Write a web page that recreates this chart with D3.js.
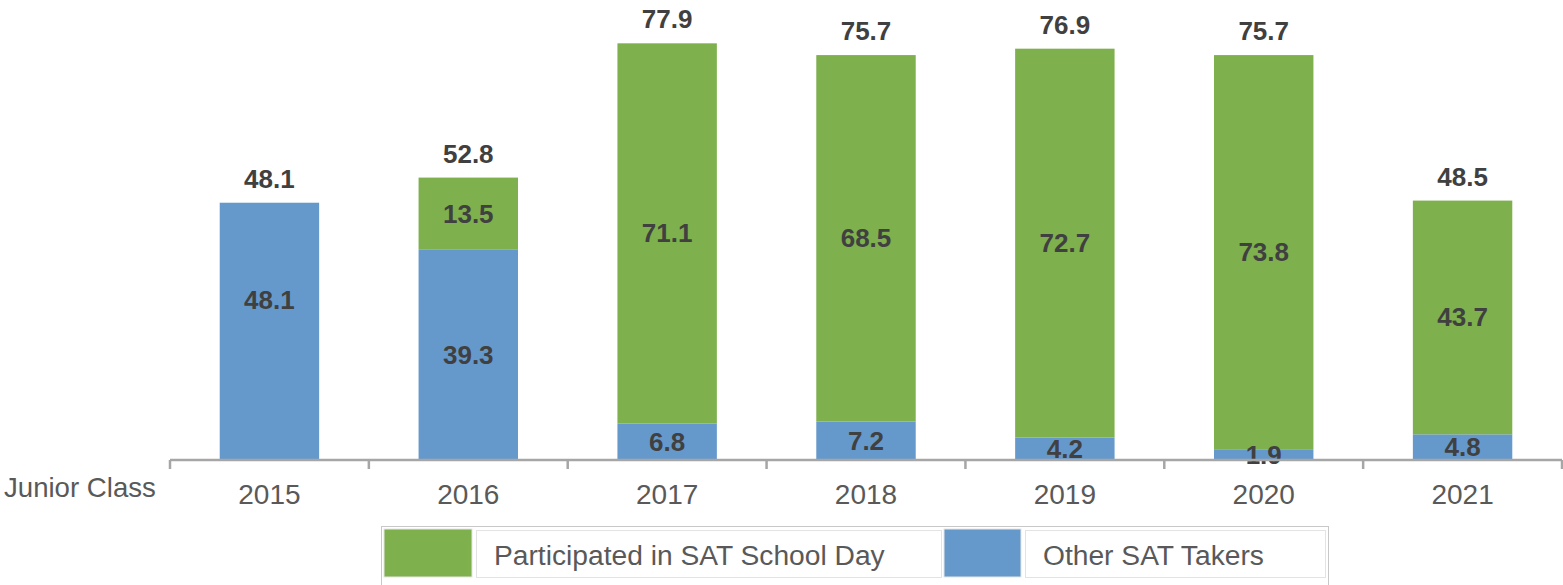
<!DOCTYPE html>
<html><head><meta charset="utf-8">
<script src="https://cdn.jsdelivr.net/npm/d3@7"></script>
<style>body{margin:0;background:#fff}svg{display:block;font-family:"Liberation Sans",Arial,sans-serif}</style>
</head><body><svg id="c" width="1563" height="585"></svg>
<script>
const years = ["2015","2016","2017","2018","2019","2020","2021"];
const otherTakers = [48.1, 39.3, 6.8, 7.2, 4.2, 1.9, 4.8];
const schoolDay = [0, 13.5, 71.1, 68.5, 72.7, 73.8, 43.7];
const totals = [48.1, 52.8, 77.9, 75.7, 76.9, 75.7, 48.5];
const seriesNames = ["Participated in SAT School Day", "Other SAT Takers"];
const colors = {green:"#7EB04D", blue:"#6699CB"};

const svg = d3.select("#c");
const x = d3.scaleBand().domain(years).range([170, 1562]).paddingInner(0.5).paddingOuter(0.25);
const y = d3.scaleLinear().domain([0, 86]).range([460, 0]);
const bw = x.bandwidth();

const g = svg.append("g");
years.forEach((yr, i) => {
  const b = otherTakers[i], s = schoolDay[i];
  g.append("rect").attr("x", x(yr)).attr("width", bw)
    .attr("y", y(b)).attr("height", y(0) - y(b)).attr("fill", colors.blue);
  if (s > 0) {
    g.append("rect").attr("x", x(yr)).attr("width", bw)
      .attr("y", y(b + s)).attr("height", y(b) - y(b + s)).attr("fill", colors.green);
    g.append("text").attr("x", x(yr) + bw/2).attr("y", y(b + s/2) + 9)
      .attr("text-anchor","middle").attr("font-size",26).attr("font-weight","bold")
      .attr("fill","#404040").text(s.toFixed(1));
  }
  g.append("text").attr("x", x(yr) + bw/2).attr("y", y(s > 0 ? b/2 : b*0.62) + 9)
    .attr("text-anchor","middle").attr("font-size",26).attr("font-weight","bold")
    .attr("fill","#404040").text(b.toFixed(1));
  g.append("text").attr("x", x(yr) + bw/2).attr("y", y(totals[i]) - 15)
    .attr("text-anchor","middle").attr("font-size",26).attr("font-weight","bold")
    .attr("fill","#404040").text(totals[i].toFixed(1));
});

const axisG = svg.append("g");
axisG.append("line").attr("x1", 170).attr("x2", 1562).attr("y1", y(0)).attr("y2", y(0))
  .attr("stroke","#a6a6a6").attr("stroke-width",2.5);
const step = x.step();
d3.range(years.length + 1).forEach(k => {
  const tx = 170 + k * step;
  axisG.append("line").attr("x1", tx).attr("x2", tx).attr("y1", y(0)).attr("y2", y(0) + 9)
    .attr("stroke","#a6a6a6").attr("stroke-width",2.5);
});
years.forEach(yr => {
  axisG.append("text").attr("x", x(yr) + bw/2).attr("y", y(0) + 44)
    .attr("text-anchor","middle").attr("font-size",28).attr("fill","#595959").text(yr);
});
svg.append("text").attr("x", 4).attr("y", y(0) + 37).attr("font-size",27.6)
  .attr("fill","#595959").text("Junior Class");

const lg = svg.append("g");
lg.append("rect").attr("x",381.5).attr("y",526.5).attr("width",947).attr("height",70)
  .attr("fill","#fff").attr("stroke","#c8c8c8").attr("stroke-width",1);
const items = [
  {name: seriesNames[0], color: colors.green, sx: 384, sw: 88, tx: 476, tw: 465},
  {name: seriesNames[1], color: colors.blue, sx: 944, sw: 77, tx: 1025, tw: 300}
];
items.forEach(it => {
  lg.append("rect").attr("x", it.sx).attr("y", 529).attr("width", it.sw).attr("height", 48)
    .attr("fill", it.color).attr("stroke","#e6e6e6").attr("stroke-width",1);
  lg.append("rect").attr("x", it.tx + 0.5).attr("y", 530.5).attr("width", it.tw).attr("height", 47)
    .attr("fill","#fff").attr("stroke","#e3e3e3").attr("stroke-width",1);
  lg.append("text").attr("x", it.tx + 18).attr("y", 565).attr("font-size",28.2)
    .attr("fill","#595959").text(it.name);
});
</script></body></html>
